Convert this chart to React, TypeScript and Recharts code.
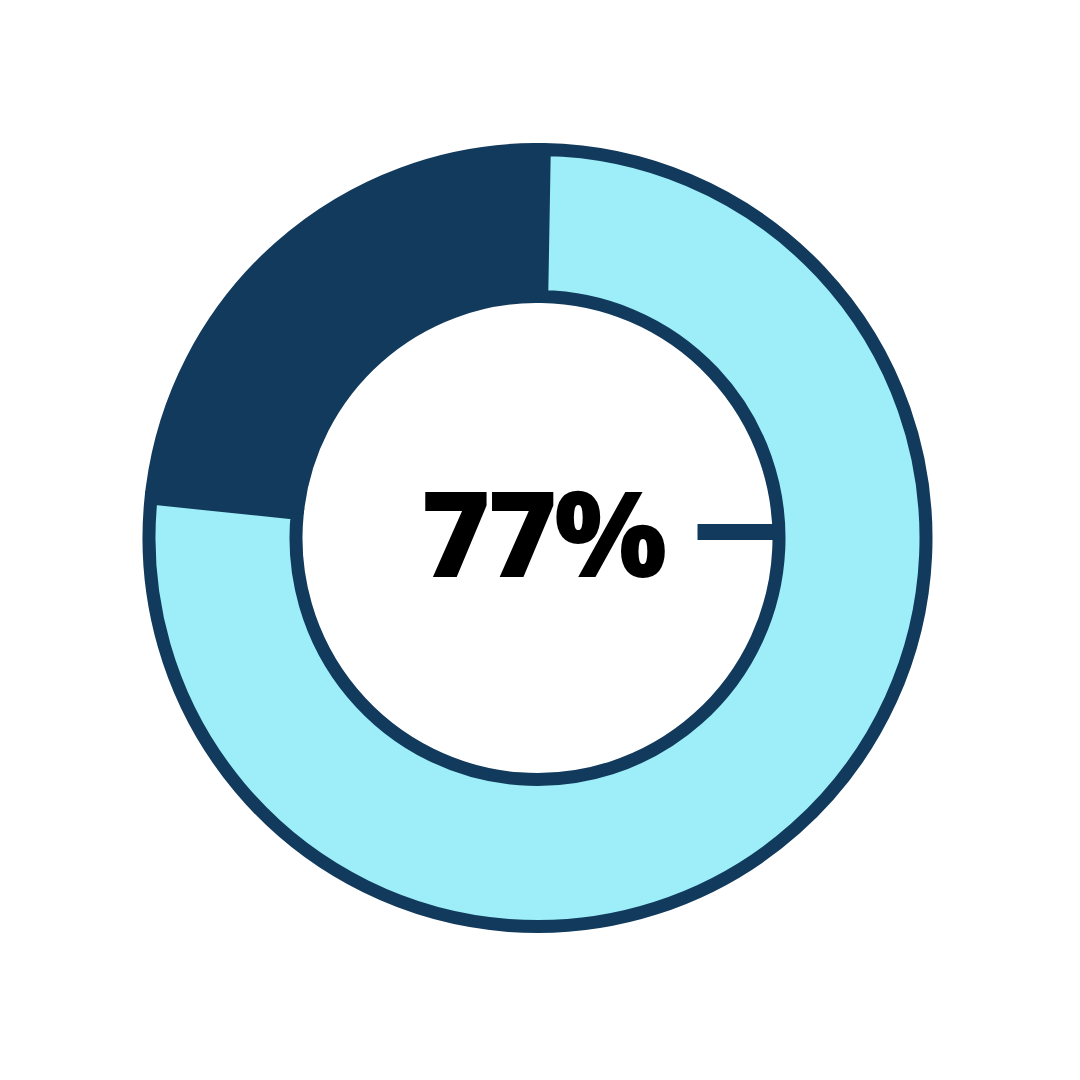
import React from "react";
import { PieChart, Pie, Cell, Customized } from "recharts";

const categories = ["Yes", "No"];
const values = [77, 23];
const centerLabel = "77%";

const COLORS = ["#9DEEF8", "#113A5C"];
const STROKE = "#113A5C";

const CX = 537.5;
const CY = 538;
const INNER = 241.5;
const OUTER = 388.5;

const data = categories.map((name, i) => ({ name, value: values[i] }));

const CenterContent = () => {
  return (
    <g>
      <text
        x={CX + 5}
        y={CY + 39}
        textAnchor="middle"
        fontFamily="'Noto Sans', sans-serif"
        fontWeight={900}
        fontSize={119}
        letterSpacing={-3}
        fill="#000000"
      >
        {centerLabel}
      </text>
      <line
        x1={CX + 160}
        x2={CX + INNER}
        y1={CY - 6}
        y2={CY - 6}
        stroke={STROKE}
        strokeWidth={16}
      />
    </g>
  );
};

export default function App() {
  return (
    <div style={{ position: "absolute", left: 0, top: 0, width: 1080, height: 1080, background: "#ffffff" }}>
      <PieChart width={1080} height={1080} margin={{ top: 0, right: 0, bottom: 0, left: 0 }}>
        <Pie
          data={data}
          dataKey="value"
          nameKey="name"
          cx={CX}
          cy={CY}
          innerRadius={INNER}
          outerRadius={OUTER}
          startAngle={89}
          endAngle={-271}
          paddingAngle={1.5}
          stroke={STROKE}
          strokeWidth={13}
          isAnimationActive={false}
        >
          {data.map((d, i) => (
            <Cell key={d.name} fill={COLORS[i]} stroke={STROKE} strokeWidth={13} />
          ))}
        </Pie>
        <Customized component={CenterContent} />
      </PieChart>
    </div>
  );
}
